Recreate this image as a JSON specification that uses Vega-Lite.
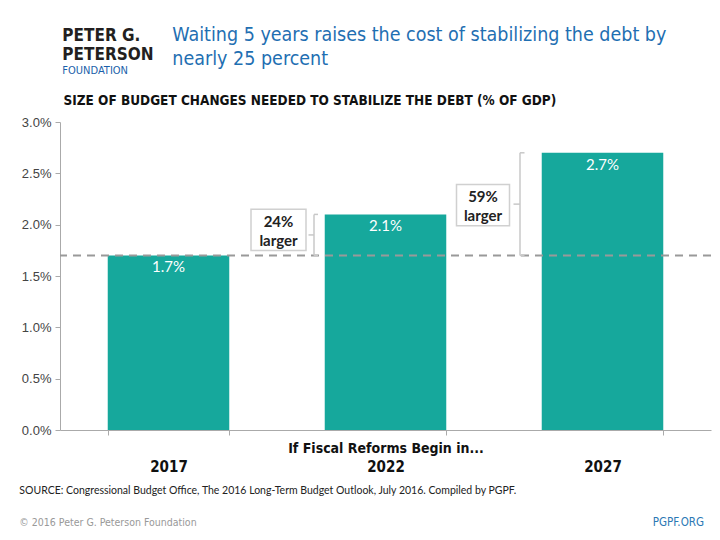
{
  "$schema": "https://vega.github.io/schema/vega-lite/v6.json",
  "background": "white",
  "padding": {"left": 19, "top": 24, "right": 5, "bottom": 5},
  "datasets": {
    "budget": [
      {"year": "2017", "value": 1.7, "label": "1.7%"},
      {"year": "2022", "value": 2.1, "label": "2.1%"},
      {"year": "2027", "value": 2.7, "label": "2.7%"}
    ],
    "notes": [
      {"year": "2022", "base": 1.7, "top": 2.1, "mid": 1.9, "note": "24%\nlarger"},
      {"year": "2027", "base": 1.7, "top": 2.7, "mid": 2.2, "note": "59%\nlarger"}
    ]
  },
  "config": {
    "view": {"stroke": null},
    "title": {"frame": "bounds"}
  },
  "title": {
    "text": ["PETER G.", "PETERSON"],
    "subtitle": "FOUNDATION",
    "orient": "top",
    "anchor": "start",
    "offset": 0,
    "dx": 43,
    "dy": 52,
    "font": "'DejaVu Sans Condensed', sans-serif",
    "fontSize": 17,
    "fontWeight": "bold",
    "color": "#231f20",
    "lineHeight": 19,
    "subtitleFont": "'DejaVu Sans Condensed', sans-serif",
    "subtitleFontSize": 11,
    "subtitleColor": "#1b5faa",
    "subtitlePadding": 1
  },
  "vconcat": [
    {
      "title": {
        "text": "PGPF.ORG",
        "orient": "bottom",
        "anchor": "end",
        "offset": 0,
        "dx": -8,
        "dy": -11,
        "font": "'DejaVu Sans Condensed', sans-serif",
        "fontSize": 11.5,
        "fontWeight": "normal",
        "color": "#2b78b4"
      },
      "vconcat": [
        {
          "title": {
            "text": "SOURCE: Congressional Budget Office, The 2016 Long-Term Budget Outlook, July 2016. Compiled by PGPF.",
            "subtitle": "© 2016 Peter G. Peterson Foundation",
            "orient": "bottom",
            "anchor": "start",
            "offset": 12,
            "dx": -2,
            "font": "Lato, sans-serif",
            "fontSize": 10.5,
            "fontWeight": "normal",
            "color": "#222222",
            "subtitleFont": "'DejaVu Sans Condensed', sans-serif",
            "subtitleFontSize": 10.5,
            "subtitleColor": "#999999",
            "subtitlePadding": 21
          },
          "vconcat": [
            {
              "title": {
                "text": ["Waiting 5 years raises the cost of stabilizing the debt by", "nearly 25 percent"],
                "anchor": "start",
                "orient": "top",
                "dx": 151,
                "offset": 24,
                "font": "'DejaVu Sans Condensed', sans-serif",
                "fontSize": 19.5,
                "fontWeight": "normal",
                "color": "#1f6fb2",
                "lineHeight": 24
              },
              "width": 651,
              "height": 308,
              "layer": [
                {
                  "data": {"name": "budget"},
                  "mark": {"type": "bar", "color": "#16a89c"},
                  "encoding": {
                    "x": {
                      "field": "year",
                      "type": "nominal",
                      "sort": null,
                      "scale": {"paddingInner": 0.44, "paddingOuter": 0.22},
                      "axis": {
                        "title": "If Fiscal Reforms Begin in...",
                        "titleFont": "'DejaVu Sans Condensed', sans-serif",
                        "titleFontSize": 14,
                        "titleFontWeight": "bold",
                        "titleColor": "#111111",
                        "titleY": 18,
                        "titleBaseline": "middle",
                        "labelAngle": 0,
                        "labelFont": "'DejaVu Sans Condensed', sans-serif",
                        "labelFontSize": 15,
                        "labelFontWeight": "bold",
                        "labelColor": "#111111",
                        "labelPadding": 24,
                        "tickBand": "extent",
                        "tickSize": 5,
                        "tickColor": "#aaaaaa",
                        "domainColor": "#aaaaaa",
                        "grid": false
                      }
                    },
                    "y": {
                      "field": "value",
                      "type": "quantitative",
                      "scale": {"domain": [0, 3], "nice": false},
                      "axis": {
                        "title": "SIZE OF BUDGET CHANGES NEEDED TO STABILIZE THE DEBT (% OF GDP)",
                        "titleAngle": 0,
                        "titleAlign": "left",
                        "titleBaseline": "middle",
                        "titleX": 3,
                        "titleY": -22,
                        "titleFont": "'DejaVu Sans Condensed', sans-serif",
                        "titleFontSize": 13.5,
                        "titleFontWeight": "bold",
                        "titleColor": "#111111",
                        "values": [0, 0.5, 1, 1.5, 2, 2.5, 3],
                        "labelExpr": "format(datum.value, '.1f') + '%'",
                        "labelFont": "'Liberation Sans', sans-serif",
                        "labelFontSize": 13,
                        "labelColor": "#444444",
                        "labelPadding": 4,
                        "tickSize": 5,
                        "tickColor": "#aaaaaa",
                        "domainColor": "#aaaaaa",
                        "grid": false
                      }
                    }
                  }
                },
                {
                  "data": {"name": "budget"},
                  "mark": {"type": "text", "baseline": "top", "dy": 5, "color": "white", "font": "Lato, sans-serif", "fontSize": 15},
                  "encoding": {
                    "x": {"field": "year", "type": "nominal"},
                    "y": {"field": "value", "type": "quantitative"},
                    "text": {"field": "label"}
                  }
                },
                {
                  "data": {"name": "budget"},
                  "transform": [{"filter": "datum.year == '2017'"}],
                  "mark": {"type": "rule", "color": "#999999", "strokeWidth": 2, "strokeDash": [8, 6]},
                  "encoding": {
                    "y": {"field": "value", "type": "quantitative"}
                  }
                },
                {
                  "data": {"name": "notes"},
                  "transform": [{"filter": "datum.year == '2022'"}],
                  "mark": {"type": "point", "shape": "M-1,-0.75H1V0.75H-1Z", "size": 3025, "filled": true, "fill": "white", "stroke": "#d0d0d0", "strokeWidth": 1.5, "opacity": 1, "xOffset": -107, "yOffset": -5},
                  "encoding": {
                    "x": {"field": "year", "type": "nominal"},
                    "y": {"field": "mid", "type": "quantitative"}
                  }
                },
                {
                  "data": {"name": "notes"},
                  "transform": [{"filter": "datum.year == '2022'"}],
                  "mark": {"type": "text", "lineBreak": "\n", "lineHeight": 19, "baseline": "middle", "font": "Lato, sans-serif", "fontSize": 15, "fontWeight": "bold", "color": "#222222", "xOffset": -107, "yOffset": -13},
                  "encoding": {
                    "x": {"field": "year", "type": "nominal"},
                    "y": {"field": "mid", "type": "quantitative"},
                    "text": {"field": "note"}
                  }
                },
                {
                  "data": {"name": "notes"},
                  "transform": [{"filter": "datum.year == '2022'"}],
                  "mark": {"type": "rule", "color": "#c8c8c8", "strokeWidth": 1.5, "xOffset": -71.5},
                  "encoding": {
                    "x": {"field": "year", "type": "nominal"},
                    "y": {"field": "base", "type": "quantitative"},
                    "y2": {"field": "top"}
                  }
                },
                {
                  "data": {"name": "notes"},
                  "transform": [{"filter": "datum.year == '2022'"}],
                  "mark": {"type": "rule", "color": "#c8c8c8", "strokeWidth": 1.5, "xOffset": -77, "x2Offset": -71.5},
                  "encoding": {
                    "x": {"field": "year", "type": "nominal"},
                    "x2": {"field": "year"},
                    "y": {"field": "mid", "type": "quantitative"}
                  }
                },
                {
                  "data": {"name": "notes"},
                  "transform": [{"filter": "datum.year == '2022'"}, {"fold": ["base", "top"], "as": ["end", "level"]}],
                  "mark": {"type": "rule", "color": "#c8c8c8", "strokeWidth": 1.5, "xOffset": -71.5, "x2Offset": -67.5},
                  "encoding": {
                    "x": {"field": "year", "type": "nominal"},
                    "x2": {"field": "year"},
                    "y": {"field": "level", "type": "quantitative"}
                  }
                },
                {
                  "data": {"name": "notes"},
                  "transform": [{"filter": "datum.year == '2027'"}],
                  "mark": {"type": "point", "shape": "M-1,-0.78H1V0.78H-1Z", "size": 2809, "filled": true, "fill": "white", "stroke": "#d0d0d0", "strokeWidth": 1.5, "opacity": 1, "xOffset": -119.5, "yOffset": 1},
                  "encoding": {
                    "x": {"field": "year", "type": "nominal"},
                    "y": {"field": "mid", "type": "quantitative"}
                  }
                },
                {
                  "data": {"name": "notes"},
                  "transform": [{"filter": "datum.year == '2027'"}],
                  "mark": {"type": "text", "lineBreak": "\n", "lineHeight": 19, "baseline": "middle", "font": "Lato, sans-serif", "fontSize": 15, "fontWeight": "bold", "color": "#222222", "xOffset": -119.5, "yOffset": -7},
                  "encoding": {
                    "x": {"field": "year", "type": "nominal"},
                    "y": {"field": "mid", "type": "quantitative"},
                    "text": {"field": "note"}
                  }
                },
                {
                  "data": {"name": "notes"},
                  "transform": [{"filter": "datum.year == '2027'"}],
                  "mark": {"type": "rule", "color": "#c8c8c8", "strokeWidth": 1.5, "xOffset": -82.5},
                  "encoding": {
                    "x": {"field": "year", "type": "nominal"},
                    "y": {"field": "base", "type": "quantitative"},
                    "y2": {"field": "top"}
                  }
                },
                {
                  "data": {"name": "notes"},
                  "transform": [{"filter": "datum.year == '2027'"}],
                  "mark": {"type": "rule", "color": "#c8c8c8", "strokeWidth": 1.5, "xOffset": -89, "x2Offset": -82.5},
                  "encoding": {
                    "x": {"field": "year", "type": "nominal"},
                    "x2": {"field": "year"},
                    "y": {"field": "mid", "type": "quantitative"}
                  }
                },
                {
                  "data": {"name": "notes"},
                  "transform": [{"filter": "datum.year == '2027'"}, {"fold": ["base", "top"], "as": ["end", "level"]}],
                  "mark": {"type": "rule", "color": "#c8c8c8", "strokeWidth": 1.5, "xOffset": -82.5, "x2Offset": -78},
                  "encoding": {
                    "x": {"field": "year", "type": "nominal"},
                    "x2": {"field": "year"},
                    "y": {"field": "level", "type": "quantitative"}
                  }
                }
              ]
            }
          ]
        }
      ]
    }
  ]
}
